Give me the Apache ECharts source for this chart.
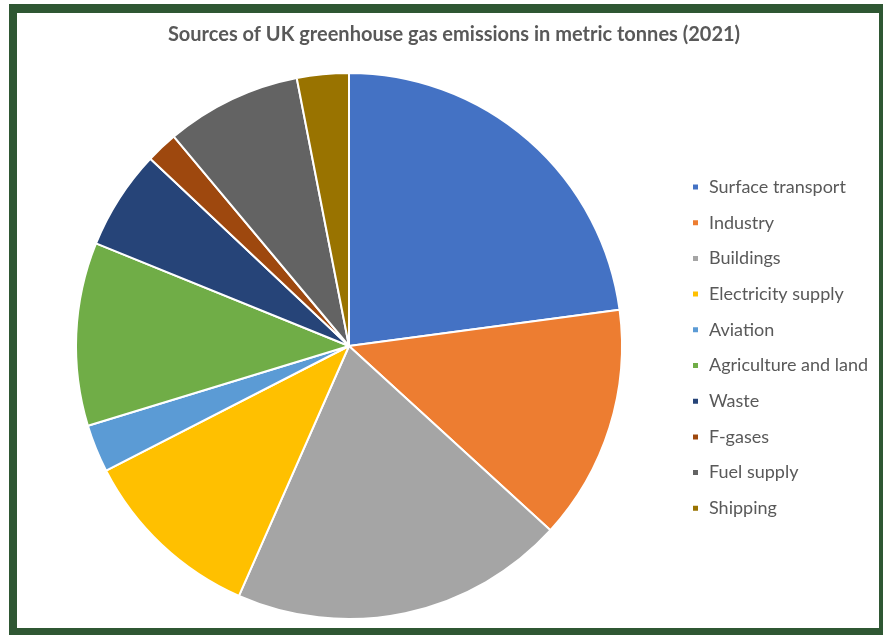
<!DOCTYPE html>
<html>
<head>
<meta charset="utf-8">
<script src="https://cdn.jsdelivr.net/npm/echarts@6/dist/echarts.min.js"></script>
<style>
  html, body { margin: 0; padding: 0; background: #ffffff; }
  #frame { position: absolute; left: 9px; top: 4px; width: 874px; height: 631px; background: #2f5733; }
  #chart { position: absolute; left: 17px; top: 13px; width: 862px; height: 615px; background: #ffffff; }
</style>
</head>
<body>
<div id="frame"></div>
<div id="chart"></div>
<script>
const titleText = 'Sources of UK greenhouse gas emissions in metric tonnes (2021)';
const categories = ['Surface transport', 'Industry', 'Buildings', 'Electricity supply', 'Aviation',
  'Agriculture and land', 'Waste', 'F-gases', 'Fuel supply', 'Shipping'];
const emissions = [97, 59, 84, 46, 12, 46, 25, 8, 34, 13];
const colors = ['#4472C4', '#ED7D31', '#A5A5A5', '#FFC000', '#5B9BD5',
  '#70AD47', '#264478', '#9E480E', '#636363', '#997300'];

const chart = echarts.init(document.getElementById('chart'), null, { renderer: 'canvas' });
chart.setOption({
  animation: false,
  color: colors,
  title: {
    text: titleText,
    left: 432, top: 7, textAlign: 'center',
    textStyle: { fontFamily: 'Lato', fontWeight: 'bold', fontSize: 20, color: '#595959' }
  },
  legend: {
    orient: 'vertical',
    left: 674, top: 164,
    padding: 0,
    itemWidth: 7, itemHeight: 7, itemGap: 15.7,
    icon: 'rect',
    data: categories,
    textStyle: { fontFamily: 'Lato', fontSize: 18, color: '#595959', lineHeight: 20, padding: [0, 0, 0, 5] }
  },
  series: [{
    type: 'pie',
    center: [332, 333],
    radius: [0, 273],
    startAngle: 90,
    clockwise: true,
    label: { show: false },
    labelLine: { show: false },
    itemStyle: { borderColor: '#ffffff', borderWidth: 2 },
    emphasis: { disabled: true },
    data: categories.map((c, i) => ({ name: c, value: emissions[i] }))
  }]
});
</script>
</body>
</html>
